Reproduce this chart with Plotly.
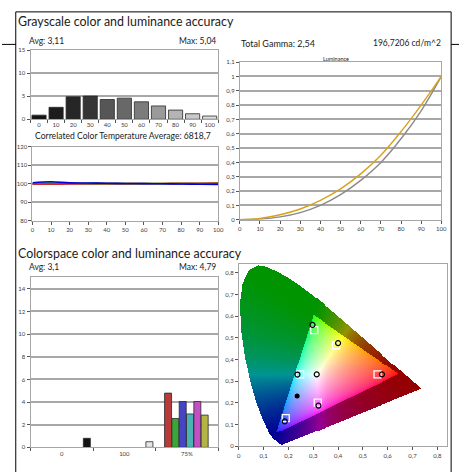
import numpy as np
import plotly.graph_objects as go

# ---------------- data ----------------
gray_levels = ["0", "10", "20", "30", "40", "50", "60", "70", "80", "90", "100"]
gray_de = [0.9, 2.6, 4.9, 5.04, 4.3, 4.6, 3.8, 2.9, 2.0, 1.2, 0.7]
gray_colors = ["#141414", "#1c1c1c", "#262626", "#353535", "#565656", "#686868",
               "#7c7c7c", "#9a9a9a", "#b4b4b4", "#cacaca", "#e0e0e0"]

cct_x = [0, 10, 20, 30, 40, 50, 60, 70, 80, 90, 100]
cct_red = [99.9, 99.95, 100.0, 100.05, 100.1, 100.1, 100.15, 100.2, 100.25, 100.3, 100.35]
cct_green = [100.3, 100.35, 100.3, 100.25, 100.2, 100.2, 100.2, 100.15, 100.15, 100.1, 100.1]
cct_blue = [100.6, 101.1, 100.5, 100.4, 100.3, 100.2, 100.1, 100.0, 99.9, 99.8, 99.7]

lum_x = [0, 10, 20, 30, 40, 50, 60, 70, 80, 90, 100]
lum_target = [0, 0.01, 0.035, 0.075, 0.135, 0.215, 0.32, 0.45, 0.615, 0.80, 1.0]
lum_measured = [0, 0.005, 0.02, 0.05, 0.10, 0.175, 0.275, 0.40, 0.565, 0.76, 1.0]

cs_groups = ["0", "100", "75%"]
cs_patches = ["Black", "White", "Red", "Green", "Blue", "Cyan", "Magenta", "Yellow"]
cs_patch_group = [0, 1, 2, 2, 2, 2, 2, 2]
cs_patch_slot = [6, 6, 0, 1, 2, 3, 4, 5]
cs_de = [0.8, 0.5, 4.79, 2.55, 4.05, 2.95, 4.05, 2.85]
cs_colors = ["#141414", "#e6e6e6", "#b83a3a", "#3aa63a", "#4444c4", "#4ab4b4", "#c44ec4", "#b4b444"]

target_x = [0.304, 0.392, 0.247, 0.559, 0.318, 0.189]
target_y = [0.536, 0.466, 0.332, 0.332, 0.202, 0.130]
meas_x = [0.297, 0.400, 0.236, 0.314, 0.577, 0.321, 0.185]
meas_y = [0.560, 0.476, 0.331, 0.332, 0.332, 0.188, 0.115]
black_x = [0.235]
black_y = [0.232]

gamut_x = [0.645, 0.300, 0.150]
gamut_y = [0.332, 0.605, 0.060]

locus_x = [0.1741, 0.1740, 0.1738, 0.1736, 0.1733, 0.1730, 0.1726, 0.1721, 0.1714, 0.1703,
           0.1689, 0.1669, 0.1644, 0.1611, 0.1566, 0.1510, 0.1440, 0.1355, 0.1241, 0.1096,
           0.0913, 0.0687, 0.0454, 0.0235, 0.0082, 0.0039, 0.0139, 0.0389, 0.0743, 0.1142,
           0.1547, 0.1929, 0.2296, 0.2658, 0.3016, 0.3373, 0.3731, 0.4087, 0.4441, 0.4788,
           0.5125, 0.5448, 0.5752, 0.6029, 0.6270, 0.6482, 0.6658, 0.6801, 0.6915, 0.7006,
           0.7079, 0.7140, 0.7190, 0.7230, 0.7260, 0.7283, 0.7300, 0.7311, 0.7320, 0.7334,
           0.7344, 0.7347]
locus_y = [0.0050, 0.0050, 0.0049, 0.0049, 0.0048, 0.0048, 0.0048, 0.0048, 0.0051, 0.0058,
           0.0069, 0.0086, 0.0109, 0.0138, 0.0177, 0.0227, 0.0297, 0.0399, 0.0578, 0.0868,
           0.1327, 0.2007, 0.2950, 0.4127, 0.5384, 0.6548, 0.7502, 0.8120, 0.8338, 0.8262,
           0.8059, 0.7816, 0.7543, 0.7243, 0.6923, 0.6589, 0.6245, 0.5896, 0.5547, 0.5202,
           0.4866, 0.4544, 0.4242, 0.3965, 0.3725, 0.3514, 0.3340, 0.3197, 0.3083, 0.2993,
           0.2920, 0.2859, 0.2809, 0.2770, 0.2740, 0.2717, 0.2700, 0.2689, 0.2680, 0.2666,
           0.2656, 0.2653]

# ---------------- layout helpers ----------------
W, H = 465, 475
FONT = "Lato"


def xd(a, b):
    return [a / W, b / W]


def yd(top, bottom):
    return [1 - bottom / H, 1 - top / H]


def px(x):
    return x / W


def py(y):
    return 1 - y / H


# ---------------- chromaticity background ----------------
CIE_MAX = 0.84
nx, ny = 212, 185
dx = CIE_MAX / nx
dy = CIE_MAX / ny
gx = (np.arange(nx) + 0.5) * dx
gy = (np.arange(ny) + 0.5) * dy
XX, YY = np.meshgrid(gx, gy)


def in_poly(qx, qy, vx, vy):
    res = np.zeros(qx.shape, dtype=bool)
    n = len(vx)
    j = n - 1
    for i in range(n):
        xi, yi, xj, yj = vx[i], vy[i], vx[j], vy[j]
        if yi != yj:
            cond = ((yi > qy) != (yj > qy)) & (qx < (xj - xi) * (qy - yi) / (yj - yi) + xi)
            res ^= cond
        j = i
    return res


in_locus = in_poly(XX, YY, locus_x, locus_y)
in_gamut = in_poly(XX, YY, gamut_x, gamut_y)
Yc = np.maximum(YY, 1e-6)
Xv = XX / Yc
Zv = (1 - XX - YY) / Yc
r = 3.2406 * Xv - 1.5372 - 0.4986 * Zv
g = -0.9689 * Xv + 1.8758 + 0.0415 * Zv
b = 0.0557 * Xv - 0.2040 + 1.0570 * Zv
rgb = np.clip(np.stack([r, g, b], axis=-1), 0, None)
rgb = rgb / np.maximum(rgb.max(axis=-1, keepdims=True), 1e-9)
col_in = rgb ** (1 / 2.2)
col_out = rgb * 0.58
img = np.where(in_gamut[..., None], col_in, col_out)
img = np.where(in_locus[..., None], img, 1.0)
img = (img * 255).round().astype(np.uint8)

# ---------------- figure ----------------
fig = go.Figure()

# Grayscale dE bars
fig.add_trace(go.Bar(x=gray_levels, y=gray_de, width=0.83,
                     marker=dict(color=gray_colors, line=dict(color="#2a2a2a", width=0.8)),
                     xaxis="x", yaxis="y", showlegend=False))

# CCT lines
for vals, c in [(cct_red, "#e00000"), (cct_green, "#00a000"), (cct_blue, "#0000e0")]:
    fig.add_trace(go.Scatter(x=cct_x, y=vals, mode="lines", line=dict(color=c, width=1.6, shape="spline"),
                             xaxis="x2", yaxis="y2", showlegend=False))

# Luminance lines
fig.add_trace(go.Scatter(x=lum_x, y=lum_measured, mode="lines",
                         line=dict(color="#8a8a8a", width=1.4, shape="spline"),
                         xaxis="x3", yaxis="y3", showlegend=False))
fig.add_trace(go.Scatter(x=lum_x, y=lum_target, mode="lines",
                         line=dict(color="#d9a11a", width=1.4, shape="spline"),
                         xaxis="x3", yaxis="y3", showlegend=False))

# Colorspace dE bars
CS_OFF, CS_STEP, CS_W = 0.14, 0.117, 0.112
cs_pos = [grp + CS_OFF + CS_STEP * (s + 0.5) for grp, s in zip(cs_patch_group, cs_patch_slot)]
fig.add_trace(go.Bar(x=cs_pos, y=cs_de, width=CS_W, text=cs_patches, hoverinfo="text+y",
                     textposition="none",
                     marker=dict(color=cs_colors, line=dict(color="#2a2a2a", width=0.8)),
                     xaxis="x4", yaxis="y4", showlegend=False))

# CIE diagram
fig.add_trace(go.Image(z=img.tolist(), x0=dx / 2, dx=dx, y0=dy / 2, dy=dy, colormodel="rgb",
                       xaxis="x5", yaxis="y5", hoverinfo="skip"))
fig.add_trace(go.Scatter(x=target_x, y=target_y, mode="markers",
                         marker=dict(symbol="square-open", size=7, color="white", line=dict(width=1.3)),
                         xaxis="x5", yaxis="y5", showlegend=False))
fig.add_trace(go.Scatter(x=meas_x, y=meas_y, mode="markers",
                         marker=dict(symbol="circle-open", size=5, color="black", line=dict(width=1.2)),
                         xaxis="x5", yaxis="y5", showlegend=False))
fig.add_trace(go.Scatter(x=black_x, y=black_y, mode="markers",
                         marker=dict(symbol="circle", size=5, color="black"),
                         xaxis="x5", yaxis="y5", showlegend=False))

tickfont = dict(size=6, color="#404040", family=FONT)
base = dict(showline=True, linecolor="#a6a6a6", linewidth=1, mirror=True, ticks="outside",
            ticklen=3, tickcolor="#555555", tickwidth=1, tickfont=tickfont,
            zeroline=False, showgrid=False, fixedrange=True)
grid = dict(showgrid=True, gridcolor="#a8a8a8", gridwidth=1.5)

fig.update_layout(
    width=W, height=H, margin=dict(l=0, r=0, t=0, b=0),
    paper_bgcolor="white", plot_bgcolor="white", separators=", ",
    font=dict(family=FONT, color="#222222"),
    showlegend=False,
    xaxis=dict(base, domain=xd(29, 220), type="category", tickson="boundaries", tickangle=0,
               anchor="y"),
    yaxis=dict(base, **grid, domain=yd(47, 117), range=[0, 15], dtick=5, anchor="x"),
    xaxis2=dict(base, domain=xd(31, 220), range=[0, 100], dtick=10, tickangle=0, anchor="y2"),
    yaxis2=dict(base, **grid, domain=yd(145, 220), range=[80, 120], dtick=10, anchor="x2"),
    xaxis3=dict(base, domain=xd(242, 447), range=[0, 100], dtick=10, tickangle=0, anchor="y3"),
    yaxis3=dict(base, **grid, domain=yd(59, 219), range=[0, 1.1], dtick=0.1, anchor="x3"),
    xaxis4=dict(base, domain=xd(29, 220), range=[0, 3], tickmode="array",
                tickvals=[0.5, 1.5, 2.5], ticktext=cs_groups, ticks="", tickangle=0,
                minor=dict(tickmode="array", tickvals=[0, 1, 2, 3], ticks="outside",
                           ticklen=3, tickcolor="#555555", showgrid=False),
                anchor="y4"),
    yaxis4=dict(base, **grid, domain=yd(277, 450), range=[0, 15.05], dtick=2, anchor="x4"),
    xaxis5=dict(base, domain=xd(241, 453), range=[0, CIE_MAX], autorange=False, dtick=0.1,
                tickangle=0, anchor="y5", scaleanchor=False),
    yaxis5=dict(base, domain=yd(264, 449), range=[0, CIE_MAX], autorange=False, dtick=0.1,
                anchor="x5", scaleanchor=False),
)

ann = []


def text(s, x, y, size, anchor="left"):
    ann.append(dict(text=s, x=px(x), y=py(y), xref="paper", yref="paper", showarrow=False,
                    xanchor=anchor, yanchor="middle", font=dict(size=size, family=FONT, color="#1a1a1a")))


text("Grayscale color and luminance accuracy", 14, 18, 12.4)
text("Avg: 3,11", 25, 38, 8.5)
text("Max: 5,04", 220, 38, 8.5, "right")
text("Correlated Color Temperature Average: 6818,7", 123, 134, 8.6, "center")
text("Total Gamma: 2,54", 241, 40, 9)
text("196,7206 cd/m^2", 449, 40, 8.5, "right")
text("Luminance", 340, 56, 5.5, "center")
text("Colorspace color and luminance accuracy", 14, 253, 12.4)
text("Avg: 3,1", 25, 267, 8.5)
text("Max: 4,79", 220, 267, 8.5, "right")
fig.update_layout(annotations=ann)

frame = [(0, 41, 14, 41), (14, 8, 14, 475), (14, 8, 457, 8), (457, 8, 457, 475), (457, 41, 465, 41)]
fig.update_layout(shapes=[dict(type="line", xref="paper", yref="paper", x0=px(a), y0=py(b_), x1=px(c), y1=py(d),
                               line=dict(color="black", width=1)) for a, b_, c, d in frame])

fig.write_html("out.html", config={"displayModeBar": False},
               post_script="document.body.style.margin='0';document.body.style.overflow='hidden';")
